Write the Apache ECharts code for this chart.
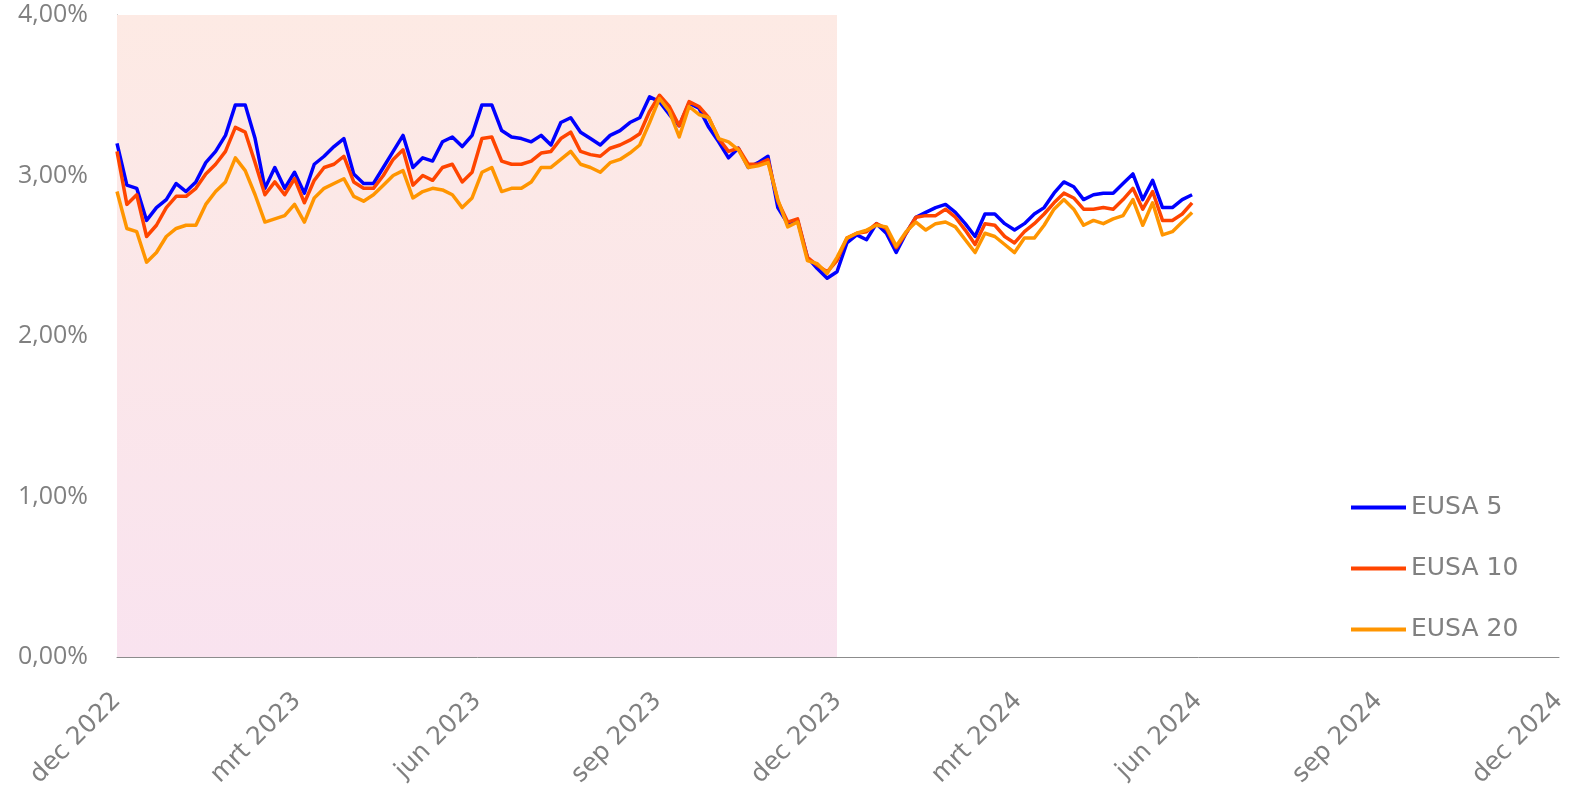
<!DOCTYPE html>
<html>
<head>
<meta charset="utf-8">
<title>EUSA</title>
<script src="https://cdn.jsdelivr.net/npm/echarts@6/dist/echarts.min.js"></script>
<style>
	html, body {margin: 0; padding: 0; background: #ffffff;}
	#chart {width: 1573px; height: 801px;}
</style>
</head>
<body>
<div id="chart"></div>
<script>
// waarden in %, een punt per 5 dagen vanaf 1 dec 2022
var startDate= '2022-12-01';
var stepDays= 5;
var eusa5= [
	3.20, 2.94, 2.92, 2.72, 2.80, 2.85, 2.95, 2.90, 2.96, 3.08,
	3.15, 3.25, 3.44, 3.44, 3.23, 2.92, 3.05, 2.92, 3.02, 2.89,
	3.07, 3.12, 3.18, 3.23, 3.01, 2.95, 2.95, 3.05, 3.15, 3.25,
	3.05, 3.11, 3.09, 3.21, 3.24, 3.18, 3.25, 3.44, 3.44, 3.28,
	3.24, 3.23, 3.21, 3.25, 3.19, 3.33, 3.36, 3.27, 3.23, 3.19,
	3.25, 3.28, 3.33, 3.36, 3.49, 3.46, 3.38, 3.31, 3.45, 3.42,
	3.30, 3.21, 3.11, 3.17, 3.05, 3.08, 3.12, 2.80, 2.70, 2.72,
	2.49, 2.42, 2.36, 2.40, 2.58, 2.63, 2.60, 2.70, 2.64, 2.52,
	2.64, 2.74, 2.77, 2.80, 2.82, 2.77, 2.70, 2.62, 2.76, 2.76,
	2.70, 2.66, 2.70, 2.76, 2.80, 2.89, 2.96, 2.93, 2.85, 2.88,
	2.89, 2.89, 2.95, 3.01, 2.85, 2.97, 2.80, 2.80, 2.85, 2.88
];
var eusa10= [
	3.15, 2.82, 2.88, 2.62, 2.69, 2.80, 2.87, 2.87, 2.92, 3.01,
	3.07, 3.15, 3.30, 3.27, 3.08, 2.88, 2.96, 2.88, 2.98, 2.83,
	2.97, 3.05, 3.07, 3.12, 2.96, 2.92, 2.92, 3.00, 3.10, 3.16,
	2.94, 3.00, 2.97, 3.05, 3.07, 2.96, 3.02, 3.23, 3.24, 3.09,
	3.07, 3.07, 3.09, 3.14, 3.15, 3.23, 3.27, 3.15, 3.13, 3.12,
	3.17, 3.19, 3.22, 3.26, 3.40, 3.50, 3.43, 3.31, 3.46, 3.43,
	3.36, 3.23, 3.15, 3.17, 3.07, 3.07, 3.10, 2.84, 2.71, 2.73,
	2.49, 2.44, 2.40, 2.47, 2.61, 2.64, 2.65, 2.70, 2.67, 2.55,
	2.64, 2.74, 2.75, 2.75, 2.79, 2.74, 2.66, 2.57, 2.70, 2.69,
	2.62, 2.58, 2.65, 2.70, 2.76, 2.83, 2.89, 2.86, 2.79, 2.79,
	2.80, 2.79, 2.85, 2.92, 2.79, 2.90, 2.72, 2.72, 2.76, 2.83
];
var eusa20= [
	2.90, 2.67, 2.65, 2.46, 2.52, 2.62, 2.67, 2.69, 2.69, 2.82,
	2.90, 2.96, 3.11, 3.03, 2.88, 2.71, 2.73, 2.75, 2.82, 2.71,
	2.86, 2.92, 2.95, 2.98, 2.87, 2.84, 2.88, 2.94, 3.00, 3.03,
	2.86, 2.90, 2.92, 2.91, 2.88, 2.80, 2.86, 3.02, 3.05, 2.90,
	2.92, 2.92, 2.96, 3.05, 3.05, 3.10, 3.15, 3.07, 3.05, 3.02,
	3.08, 3.10, 3.14, 3.19, 3.33, 3.48, 3.40, 3.24, 3.43, 3.38,
	3.36, 3.23, 3.21, 3.16, 3.05, 3.06, 3.08, 2.85, 2.68, 2.71,
	2.47, 2.45, 2.39, 2.49, 2.61, 2.64, 2.66, 2.69, 2.68, 2.56,
	2.65, 2.71, 2.66, 2.70, 2.71, 2.68, 2.60, 2.52, 2.64, 2.62,
	2.57, 2.52, 2.61, 2.61, 2.69, 2.79, 2.85, 2.79, 2.69, 2.72,
	2.70, 2.73, 2.75, 2.85, 2.69, 2.83, 2.63, 2.65, 2.71, 2.77
];
var seriesNames= ['EUSA 5', 'EUSA 10', 'EUSA 20'];
var seriesColors= ['#0000ff', '#ff4500', '#ff9500'];
var xLabels= ['dec 2022', 'mrt 2023', 'jun 2023', 'sep 2023', 'dec 2023', 'mrt 2024', 'jun 2024', 'sep 2024', 'dec 2024'];
var axisEndDate= '2024-12-01';
var shadeEndDate= '2023-12-01';

var DAY= 86400000;
var t0= Date.parse(startDate);
var totalDays= (Date.parse(axisEndDate)- t0)/ DAY; // 731
var shadeDays= (Date.parse(shadeEndDate)- t0)/ DAY;
var tickStep= totalDays/ (xLabels.length- 1);
var grey= '#808080';
var font= 'DejaVu Sans';

function pairs(values) {
	return values.map(function(v, i) { return [i* stepDays, v]; });
}

var allSeries= [eusa5, eusa10, eusa20].map(function(values, k) {
	var s= {
		name: seriesNames[k],
		type: 'line',
		data: pairs(values),
		symbol: 'none',
		smooth: false,
		lineStyle: {color: seriesColors[k], width: 3.5, join: 'round'},
		itemStyle: {color: seriesColors[k]},
		z: 2+ k
	};
	if(k=== 0)
		s.markArea= {
			silent: true,
			itemStyle: {
				color: new echarts.graphic.LinearGradient(0, 0, 0, 1, [
					{offset: 0, color: '#fdeae4'},
					{offset: 1, color: '#f9e3ef'}
				])
			},
			data: [[{xAxis: 0}, {xAxis: shadeDays}]]
		};
	return s;
});

var chart= echarts.init(document.getElementById('chart'), null, {renderer: 'canvas'});
chart.setOption({
	animation: false,
	backgroundColor: '#ffffff',
	grid: {left: 117, right: 14, top: 15, bottom: 144, containLabel: false, outerBoundsMode: 'none'},
	legend: {
		orient: 'vertical',
		left: 1346,
		top: 490,
		icon: 'rect',
		itemWidth: 55,
		itemHeight: 4,
		itemGap: 36,
		data: seriesNames,
		textStyle: {color: grey, fontSize: 25, lineHeight: 25, fontFamily: font}
	},
	xAxis: {
		type: 'value',
		min: 0,
		max: totalDays,
		interval: tickStep,
		axisLine: {show: true, lineStyle: {color: '#8c8c8c', width: 1}},
		axisTick: {show: false},
		splitLine: {show: false},
		axisLabel: {
			rotate: 45,
			margin: 40,
			color: grey,
			fontSize: 25,
			fontFamily: font,
			showMaxLabel: true,
			showMinLabel: true,
			formatter: function(v) {
				return xLabels[Math.round(v/ tickStep)] || '';
			}
		}
	},
	yAxis: {
		type: 'value',
		min: 0,
		max: 4,
		interval: 1,
		axisLine: {show: true, lineStyle: {color: '#8c8c8c', width: 1}},
		axisTick: {show: false},
		splitLine: {show: false},
		axisLabel: {
			margin: 29,
			align: 'right',
			color: grey,
			fontSize: 25,
			fontFamily: 'Open Sans',
			formatter: function(v) { return v.toFixed(2).replace('.', ',')+ '%'; }
		}
	},
	series: allSeries
});
</script>
</body>
</html>
